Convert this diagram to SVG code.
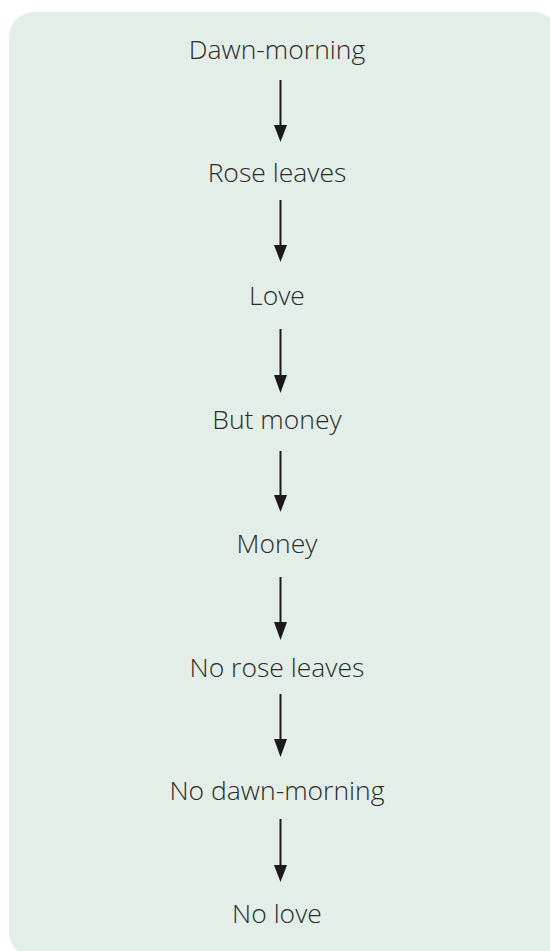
<svg xmlns="http://www.w3.org/2000/svg" width="550" height="951" viewBox="0 0 550 951">
<style>
.bg{fill:#e3eee9}
.t{font-family:"Open Sans","Liberation Sans",sans-serif;font-weight:300;font-size:26.5px;fill:#2b2b2b;text-anchor:middle}
.c{stroke:#1a1a1a;stroke-width:2;fill:none}
</style>
<rect class="bg" x="9" y="12" width="550" height="945" rx="25"/>
<g id="n1"><text class="t" x="277" y="59">Dawn-morning</text></g>
<g id="n2"><text class="t" x="277" y="182">Rose leaves</text></g>
<g id="n3"><text class="t" x="277" y="305">Love</text></g>
<g id="n4"><text class="t" x="277" y="429">But money</text></g>
<g id="n5"><text class="t" x="277" y="553">Money</text></g>
<g id="n6"><text class="t" x="277" y="677">No rose leaves</text></g>
<g id="n7"><text class="t" x="277" y="800">No dawn-morning</text></g>
<g id="n8"><text class="t" x="277" y="923">No love</text></g>
<g id="connectors" fill="#1a1a1a">
<line class="c" x1="280.5" y1="80" x2="280.5" y2="126"/><path d="M274 125h13l-6.5 17z"/>
<line class="c" x1="280.5" y1="200" x2="280.5" y2="246"/><path d="M274 245h13l-6.5 17z"/>
<line class="c" x1="280.5" y1="329" x2="280.5" y2="376"/><path d="M274 375h13l-6.5 18z"/>
<line class="c" x1="280.5" y1="451" x2="280.5" y2="497"/><path d="M274 495h13l-6.5 17z"/>
<line class="c" x1="280.5" y1="577" x2="280.5" y2="623"/><path d="M274 622h13l-6.5 18z"/>
<line class="c" x1="280.5" y1="694" x2="280.5" y2="740"/><path d="M274 739h13l-6.5 18z"/>
<line class="c" x1="280.5" y1="819" x2="280.5" y2="866"/><path d="M274 865h13l-6.5 17z"/>
</g>
</svg>
